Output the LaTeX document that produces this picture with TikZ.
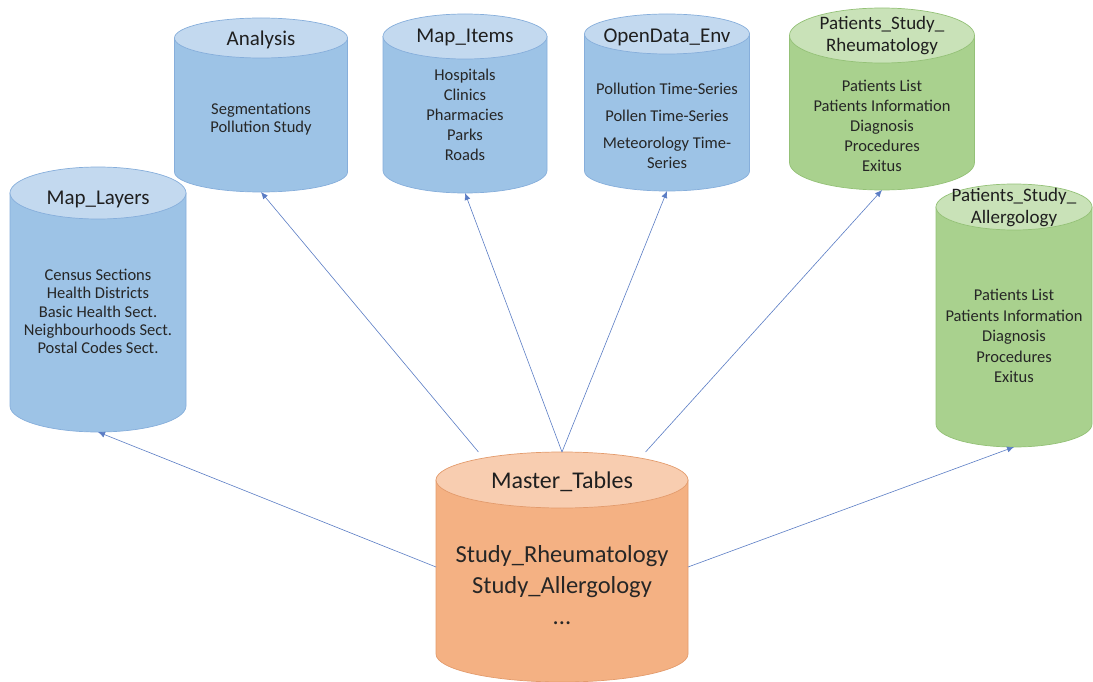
\documentclass[tikz,border=0pt]{standalone}
\usepackage{fontspec}
\setmainfont{Carlito}
\usetikzlibrary{arrows.meta}

\definecolor{dbblue}{HTML}{9DC3E6}
\definecolor{dbbluetop}{HTML}{C3D9EF}
\definecolor{dbblueline}{HTML}{86AEDB}
\definecolor{dbgreen}{HTML}{A9D18E}
\definecolor{dbgreentop}{HTML}{C9E2B8}
\definecolor{dbgreenline}{HTML}{94C177}
\definecolor{dborange}{HTML}{F4B183}
\definecolor{dborangetop}{HTML}{F8CDB0}
\definecolor{dborangeline}{HTML}{E39B6C}
\definecolor{linkblue}{HTML}{5A7CC4}

% name, centre x, top y, width, height, height of the end ellipse, colour
\newcommand{\dbcyl}[7]{%
  \pgfmathsetmacro{\dbrx}{#4/2}\pgfmathsetmacro{\dbry}{#6/2}
  \pgfmathsetmacro{\dbl}{#2-#4/2}\pgfmathsetmacro{\dbr}{#2+#4/2}
  \pgfmathsetmacro{\dbt}{#3+#6/2}\pgfmathsetmacro{\dbb}{#3+#5-#6/2}
  \path[draw=#7line, fill=#7, line width=0.7pt] (\dbl,\dbt) -- (\dbl,\dbb)
    arc[start angle=180, end angle=0, x radius=\dbrx, y radius=\dbry] -- (\dbr,\dbt) -- cycle;
  \path[draw=#7line, fill=#7top, line width=0.7pt] (#2,\dbt) ellipse[x radius=\dbrx, y radius=\dbry];
  \node[inner sep=0pt, outer sep=0pt, minimum width=#4pt, minimum height=#5pt] (#1) at (#2,{#3+#5/2}) {};
}

\tikzset{
  dbtitle/.style={font=\fontsize{21}{22}\selectfont, text=black!88, align=center, inner sep=0pt},
  dbtext/.style={font=\fontsize{16.5}{20}\selectfont, text=black!85, align=center, inner sep=0pt},
  link/.style={-{Latex[length=7pt,width=6pt]}, draw=linkblue, line width=0.6pt}
}

\begin{document}
\begin{tikzpicture}[x=1pt,y=-1pt]
\useasboundingbox (0,0) rectangle (1093,682);

% databases
\dbcyl{ML}{98}{167}{176}{265}{52}{dbblue}
\dbcyl{AN}{261}{18}{173}{174}{40}{dbblue}
\dbcyl{MI}{465}{14}{164}{179}{45}{dbblue}
\dbcyl{OD}{667}{14}{165}{177}{40}{dbblue}
\dbcyl{PR}{882}{8}{185}{182}{55}{dbgreen}
\dbcyl{PA}{1014}{184}{156}{263}{46}{dbgreen}
\dbcyl{MT}{562}{452}{252}{230}{56}{dborange}

% titles
\node[dbtitle] (MLt) at (98,199) {Map\_Layers};
\node[dbtitle] (ANt) at (261,40) {Analysis};
\node[dbtitle] (MIt) at (465,37) {Map\_Items};
\node[dbtitle] (ODt) at (667,37) {OpenData\_Env};
\node[dbtitle, font=\fontsize{19}{22}\selectfont] (PRt) at (882,36) {Patients\_Study\_\\Rheumatology};
\node[dbtitle, font=\fontsize{19}{22}\selectfont] (PAt) at (1014,207.5) {Patients\_Study\_\\Allergology};
\node[dbtitle, font=\fontsize{24}{26}\selectfont] (MTt) at (562,482) {Master\_Tables};

% contents
\node[dbtext, font=\fontsize{16.5}{18.3}\selectfont] (MLb) at (98,311.5) {Census Sections\\Health Districts\\Basic Health Sect.\\Neighbourhoods Sect.\\Postal Codes Sect.};
\node[dbtext, font=\fontsize{16.5}{18.3}\selectfont] (ANb) at (261,119) {Segmentations\\Pollution Study};
\node[dbtext] (MIb) at (465,115) {Hospitals\\Clinics\\Pharmacies\\Parks\\Roads};
\node[dbtext] (ODb) at (667,125.5) {Pollution Time-Series\\[7pt]Pollen Time-Series\\[7pt]Meteorology Time-\\Series};
\node[dbtext] (PRb) at (882,126) {Patients List\\Patients Information\\Diagnosis\\Procedures\\Exitus};
\node[dbtext, font=\fontsize{16.5}{20.5}\selectfont] (PAb) at (1014,336) {Patients List\\Patients Information\\Diagnosis\\Procedures\\Exitus};
\node[dbtext, font=\fontsize{24.5}{31}\selectfont] (MTb) at (562,585) {Study\_Rheumatology\\Study\_Allergology\\...};

% links
\draw[link] (MT.west) -- (ML.south);
\draw[link] (MT.126) -- (AN.south);
\draw[link] (MT.north) -- (MI.south);
\draw[link] (MT.north) -- (OD.south);
\draw[link] (MT.54) -- (PR.south);
\draw[link] (MT.east) -- (PA.south);
\end{tikzpicture}
\end{document}
